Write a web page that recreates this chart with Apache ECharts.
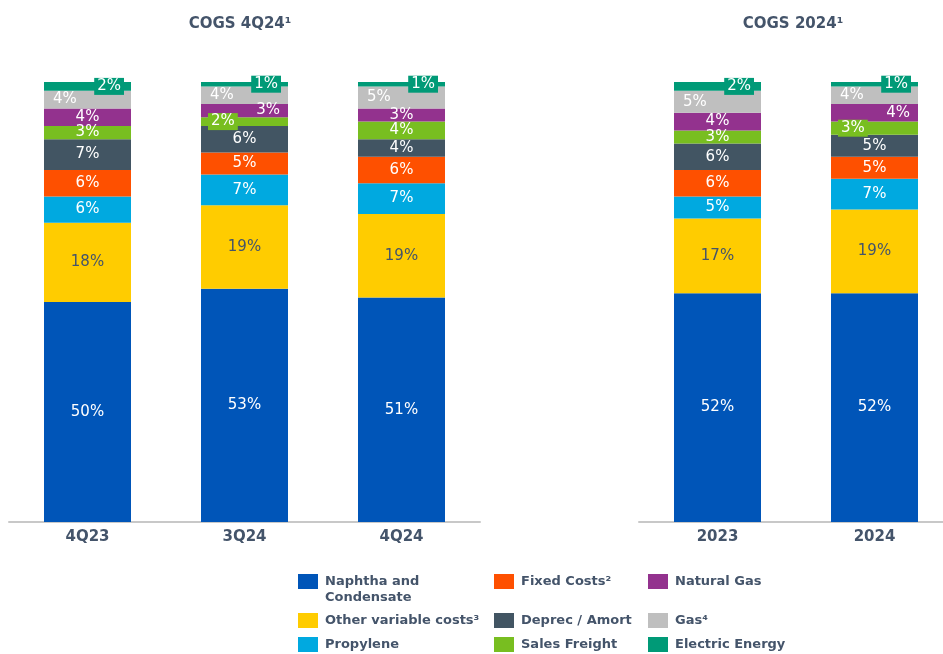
<!DOCTYPE html>
<html>
<head>
    <meta charset="utf-8"/>
    <script src="https://cdn.jsdelivr.net/npm/echarts@6/dist/echarts.min.js"></script>
</head>
<body style="margin:0">
<div id="main" style="width:943px;height:654px;"></div>
<script type="text/javascript">
    // categories
    var quarters = ['4Q23', '3Q24', '4Q24'];
    var years = ['2023', '2024'];

    // share of COGS (%), bottom of the stack first
    var naphthaQ = [50, 53, 51],   naphthaY = [52, 52];
    var otherVarQ = [18, 19, 19],  otherVarY = [17, 19];
    var propyleneQ = [6, 7, 7],    propyleneY = [5, 7];
    var fixedQ = [6, 5, 6],        fixedY = [6, 5];
    var deprecQ = [7, 6, 4],       deprecY = [6, 5];
    var freightQ = [3, 2, 4],      freightY = [3, 3];
    var natGasQ = [4, 3, 3],       natGasY = [4, 4];
    var gasQ = [4, 4, 5],          gasY = [5, 4];
    var electricQ = [2, 1, 1],     electricY = [2, 1];

    var titles = ['COGS 4Q24¹', 'COGS 2024¹'];

    var textCol = '#44546a';
    var font = 'DejaVu Sans';

    var defs = [
        { key: 'naphtha', name: 'Naphtha and\nCondensate', color: '#0055b8', q: naphthaQ, y: naphthaY },
        { key: 'otherVar', name: 'Other variable costs³', color: '#ffcc00', q: otherVarQ, y: otherVarY },
        { key: 'propylene', name: 'Propylene', color: '#00a9e0', q: propyleneQ, y: propyleneY },
        { key: 'fixed', name: 'Fixed Costs²', color: '#fe5000', q: fixedQ, y: fixedY },
        { key: 'deprec', name: 'Deprec / Amort', color: '#425563', q: deprecQ, y: deprecY },
        { key: 'freight', name: 'Sales Freight', color: '#78be20', q: freightQ, y: freightY },
        { key: 'natGas', name: 'Natural Gas', color: '#93328e', q: natGasQ, y: natGasY },
        { key: 'gas', name: 'Gas⁴', color: '#bfbfbf', q: gasQ, y: gasY },
        { key: 'electric', name: 'Electric Energy', color: '#009a77', q: electricQ, y: electricY }
    ];

    // columns where thin segments get their labels pushed aside
    var tightCats = ['3Q24', '2024'];

    function seriesLabel(d) {
        var l = { show: true, position: 'inside', formatter: '{c}%', color: '#fff', fontFamily: font, fontSize: 15 };
        if (d.key === 'otherVar') l.color = textCol;
        if (d.key === 'gas') { l.position = 'insideLeft'; l.distance = 9; }
        if (d.key === 'electric') {
            l.position = 'insideRight'; l.distance = 7;
            l.backgroundColor = d.color; l.padding = [1, 3, 1, 3];
        }
        return l;
    }

    function makeData(d, values, cats) {
        return values.map(function (v, i) {
            var item = { value: v };
            if (tightCats.indexOf(cats[i]) >= 0) {
                if (d.key === 'freight') {
                    item.label = { position: 'insideLeft', distance: 7, backgroundColor: d.color, padding: [1, 3, 1, 3] };
                }
                if (d.key === 'natGas') {
                    item.label = { position: 'insideRight', distance: 8 };
                }
            }
            return item;
        });
    }

    var series = [];
    defs.forEach(function (d) {
        [0, 1].forEach(function (g) {
            series.push({
                name: d.name,
                type: 'bar',
                stack: 'cogs' + g,
                xAxisIndex: g,
                yAxisIndex: g,
                barWidth: 87,
                itemStyle: { color: d.color },
                label: seriesLabel(d),
                emphasis: { disabled: true },
                data: makeData(d, g === 0 ? d.q : d.y, g === 0 ? quarters : years)
            });
        });
    });

    // legend: 3 columns x 3 rows, one legend per item
    var legendCols = [298, 494, 648];
    var legendRows = [574, 613, 637];
    var legendOrder = [
        ['Naphtha and\nCondensate', 'Fixed Costs²', 'Natural Gas'],
        ['Other variable costs³', 'Deprec / Amort', 'Gas⁴'],
        ['Propylene', 'Sales Freight', 'Electric Energy']
    ];
    var legends = [];
    legendOrder.forEach(function (row, r) {
        row.forEach(function (name, c) {
            var twoLine = name.indexOf('\n') >= 0;
            legends.push({
                data: [name],
                left: legendCols[c],
                // two-line entry gets an empty first line so its first line sits next to the icon
                top: twoLine ? legendRows[r] - 16.5 : legendRows[r] - 0.5,
                padding: 0,
                icon: 'rect',
                itemWidth: 20,
                itemHeight: 15,
                selectedMode: false,
                formatter: function (n) { return n.indexOf('\n') >= 0 ? ' \n' + n : n; },
                textStyle: {
                    color: textCol, fontFamily: font, fontWeight: 'bold', fontSize: 13,
                    lineHeight: 16, padding: [0, 0, 0, 2]
                }
            });
        });
    });

    var axisLabel = { color: textCol, fontFamily: font, fontWeight: 'bold', fontSize: 15, margin: 8 };
    var axisLine = { lineStyle: { color: '#c8c8c8', width: 2 } };

    var option = {
        animation: false,
        title: [
            { text: titles[0], left: 235, top: 12, textAlign: 'center',
              textStyle: { color: textCol, fontFamily: font, fontWeight: 'bold', fontSize: 15 } },
            { text: titles[1], left: 788, top: 12, textAlign: 'center',
              textStyle: { color: textCol, fontFamily: font, fontWeight: 'bold', fontSize: 15 } }
        ],
        legend: legends,
        grid: [
            { left: 9, top: 82, width: 471, height: 440, outerBoundsMode: 'none' },
            { left: 639, top: 82, width: 314, height: 440, outerBoundsMode: 'none' }
        ],
        xAxis: [
            { type: 'category', gridIndex: 0, data: quarters, axisTick: { show: false }, axisLine: axisLine, axisLabel: axisLabel },
            { type: 'category', gridIndex: 1, data: years, axisTick: { show: false }, axisLine: axisLine, axisLabel: axisLabel }
        ],
        yAxis: [
            { type: 'value', gridIndex: 0, min: 0, max: 100, show: false },
            { type: 'value', gridIndex: 1, min: 0, max: 100, show: false }
        ],
        series: series
    };

    var myChart = echarts.init(document.getElementById('main'));
    myChart.setOption(option);
</script>
</body>
</html>
